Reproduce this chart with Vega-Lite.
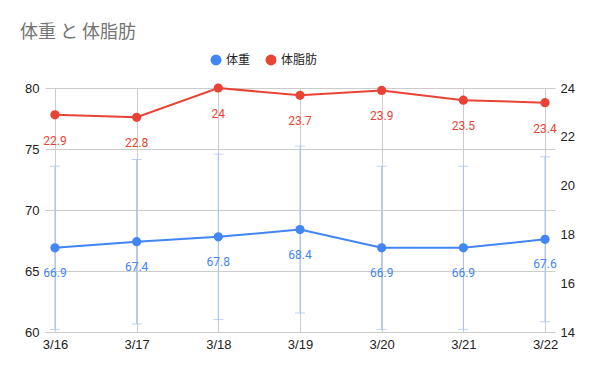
{
  "$schema": "https://vega.github.io/schema/vega-lite/v6.json",
  "width": 510,
  "height": 244,
  "autosize": "none",
  "padding": {"left": 45, "top": 88, "right": 45, "bottom": 39},
  "background": "white",
  "title": {"text": "体重 と 体脂肪", "anchor": "start", "frame": "group", "dx": -25, "offset": 12, "font": "Noto Sans CJK JP", "fontSize": 18, "fontWeight": "normal", "color": "#757575"},
  "config": {
    "view": {"stroke": null},
    "axis": {"labelFont": "Liberation Sans", "labelFontSize": 13, "labelColor": "#222222", "gridColor": "#cccccc", "domain": false, "ticks": false, "title": null}
  },
  "data": {"values": [
    {"date": "3/16", "weight": 66.9, "fat": 22.9, "lo": 60.21, "hi": 73.59},
    {"date": "3/17", "weight": 67.4, "fat": 22.8, "lo": 60.66, "hi": 74.14},
    {"date": "3/18", "weight": 67.8, "fat": 24, "lo": 61.02, "hi": 74.58},
    {"date": "3/19", "weight": 68.4, "fat": 23.7, "lo": 61.56, "hi": 75.24},
    {"date": "3/20", "weight": 66.9, "fat": 23.9, "lo": 60.21, "hi": 73.59},
    {"date": "3/21", "weight": 66.9, "fat": 23.5, "lo": 60.21, "hi": 73.59},
    {"date": "3/22", "weight": 67.6, "fat": 23.4, "lo": 60.84, "hi": 74.36}
  ]},
  "encoding": {
    "x": {"field": "date", "type": "ordinal", "scale": {"type": "point", "padding": 0.122}, "axis": {"labelAngle": 0, "grid": true, "labelPadding": 6}}
  },
  "layer": [
    {
      "encoding": {
        "y": {"type": "quantitative", "scale": {"domain": [60, 80], "nice": false, "zero": false}, "axis": {"values": [60, 65, 70, 75, 80], "grid": true, "labelPadding": 6}}
      },
      "layer": [
        {"mark": {"type": "rule", "color": "#a4c2f4", "strokeWidth": 1}, "encoding": {"y": {"field": "lo", "type": "quantitative"}, "y2": {"field": "hi"}}},
        {"mark": {"type": "tick", "color": "#a4c2f4", "size": 10, "thickness": 1}, "encoding": {"y": {"field": "lo", "type": "quantitative"}}},
        {"mark": {"type": "tick", "color": "#a4c2f4", "size": 10, "thickness": 1}, "encoding": {"y": {"field": "hi", "type": "quantitative"}}},
        {"mark": {"type": "line", "strokeWidth": 2}, "encoding": {"y": {"field": "weight", "type": "quantitative"}, "color": {"datum": "体重", "type": "nominal"}}},
        {"mark": {"type": "circle", "size": 85, "opacity": 1}, "encoding": {"y": {"field": "weight", "type": "quantitative"}, "color": {"datum": "体重", "type": "nominal"}}},
        {"mark": {"type": "text", "dy": 25, "font": "Roboto", "fontSize": 12, "color": "#4285f4"}, "encoding": {"y": {"field": "weight", "type": "quantitative"}, "text": {"field": "weight", "type": "quantitative", "format": ".3~g"}}}
      ]
    },
    {
      "encoding": {
        "y": {"type": "quantitative", "scale": {"domain": [14, 24], "nice": false, "zero": false}, "axis": {"orient": "right", "values": [14, 16, 18, 20, 22, 24], "grid": false, "labelPadding": 5}}
      },
      "layer": [
        {"mark": {"type": "line", "strokeWidth": 2}, "encoding": {"y": {"field": "fat", "type": "quantitative"}, "color": {"datum": "体脂肪", "type": "nominal", "scale": {"domain": ["体重", "体脂肪"], "range": ["#4285f4", "#ea4335"]}, "legend": {"orient": "none", "direction": "horizontal", "legendX": 165, "legendY": -34, "title": null, "symbolType": "circle", "symbolSize": 120, "symbolStrokeWidth": 0, "labelFont": "Noto Sans CJK JP", "labelFontSize": 12, "labelColor": "#222222", "columnPadding": 14}}}},
        {"mark": {"type": "circle", "size": 85, "opacity": 1}, "encoding": {"y": {"field": "fat", "type": "quantitative"}, "color": {"datum": "体脂肪", "type": "nominal"}}},
        {"mark": {"type": "text", "dy": 26, "font": "Roboto", "fontSize": 12, "color": "#ea4335"}, "encoding": {"y": {"field": "fat", "type": "quantitative"}, "text": {"field": "fat", "type": "quantitative", "format": ".3~g"}}}
      ]
    }
  ],
  "resolve": {"scale": {"y": "independent"}}
}
